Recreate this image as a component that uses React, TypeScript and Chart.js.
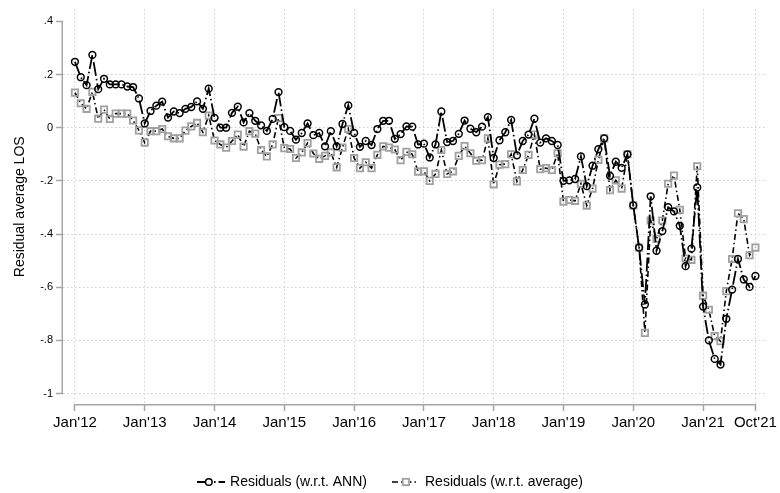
import React, { useEffect, useRef } from "react";
import { Chart, registerables } from "chart.js";

Chart.register(...registerables);

// ---------- data ----------
const tickMonths = [0, 12, 24, 36, 48, 60, 72, 84, 96, 108, 117];
const tickLabels = ["Jan'12", "Jan'13", "Jan'14", "Jan'15", "Jan'16", "Jan'17", "Jan'18", "Jan'19", "Jan'20", "Jan'21", "Oct'21"];
const yTicks = [0.4, 0.2, 0, -0.2, -0.4, -0.6, -0.8, -1];
const yTickLabels = [".4", ".2", "0", "-.2", "-.4", "-.6", "-.8", "-1"];

const seriesNames = ["Residuals (w.r.t. ANN)", "Residuals (w.r.t. average)"];

const residANN = [
  0.248, 0.19, 0.16, 0.274, 0.145, 0.184, 0.163, 0.163, 0.163, 0.155, 0.153, 0.11,
  0.016, 0.063, 0.083, 0.098, 0.038, 0.061, 0.055, 0.071, 0.078, 0.099, 0.071, 0.147,
  0.037, 0.0, 0.0, 0.056, 0.079, 0.02, 0.055, 0.026, 0.009, -0.012, 0.033, 0.134,
  0.002, -0.012, -0.045, -0.02, 0.016, -0.028, -0.02, -0.07, -0.013, -0.07, 0.014, 0.084,
  -0.02, -0.072, -0.05, -0.065, -0.005, 0.026, 0.026, -0.042, -0.024, 0.005, 0.004, -0.063,
  -0.06, -0.112, -0.063, 0.061, -0.054, -0.05, -0.023, 0.027, -0.004, -0.017, 0.004, 0.04,
  -0.114, -0.047, -0.017, 0.029, -0.104, -0.05, -0.026, 0.034, -0.056, -0.04, -0.05, -0.065,
  -0.2, -0.198, -0.193, -0.108, -0.22, -0.143, -0.081, -0.04, -0.181, -0.128, -0.151, -0.1,
  -0.292, -0.451, -0.665, -0.258, -0.463, -0.389, -0.299, -0.315, -0.369, -0.521, -0.455, -0.225,
  -0.673, -0.8, -0.87, -0.891, -0.719, -0.609, -0.494, -0.571, -0.599, -0.558,
];

const residAvg = [
  0.132, 0.092, 0.071, 0.135, 0.034, 0.068, 0.033, 0.053, 0.053, 0.053, 0.027, -0.01,
  -0.056, -0.013, -0.013, -0.005, -0.032, -0.04, -0.04, -0.011, 0.005, 0.018, -0.017, 0.046,
  -0.048, -0.063, -0.075, -0.05, -0.026, -0.071, -0.013, -0.022, -0.084, -0.108, -0.063, 0.036,
  -0.077, -0.08, -0.114, -0.093, -0.058, -0.097, -0.117, -0.106, -0.093, -0.149, -0.075, -0.005,
  -0.114, -0.152, -0.13, -0.152, -0.102, -0.07, -0.075, -0.082, -0.122, -0.091, -0.1, -0.165,
  -0.164, -0.2, -0.174, -0.084, -0.174, -0.164, -0.106, -0.069, -0.096, -0.124, -0.122, -0.04,
  -0.213, -0.139, -0.137, -0.1, -0.202, -0.159, -0.102, -0.026, -0.156, -0.152, -0.159, -0.096,
  -0.278, -0.272, -0.275, -0.211, -0.293, -0.229, -0.121, -0.04, -0.235, -0.198, -0.229, -0.1,
  -0.292, -0.451, -0.772, -0.349, -0.418, -0.349, -0.211, -0.18, -0.309, -0.492, -0.497, -0.145,
  -0.632, -0.685, -0.784, -0.803, -0.615, -0.494, -0.322, -0.344, -0.48, -0.451,
];

// ---------- styles ----------
const FONT = '"Liberation Sans", Arial, Helvetica, sans-serif';
const AXIS_COLOR = "#a6a6a6";
const GRID_COLOR = "#cfcfcf";
const SQUARE_COLOR = "#a0a0a0";
const DASH1 = [14, 3, 1.5, 3];
const DASH2 = [6, 3, 1.5, 3];

const stataPlugin = {
  id: "stataDecor",
  afterDraw(chart: any) {
    const ctx = chart.ctx as CanvasRenderingContext2D;
    const xs = chart.scales.x;
    const ys = chart.scales.y;
    const area = chart.chartArea;
    ctx.save();
    // axis lines
    ctx.strokeStyle = AXIS_COLOR;
    ctx.lineWidth = 1.5;
    ctx.setLineDash([]);
    const ax = area.left - 0.75;
    ctx.beginPath();
    ctx.moveTo(ax, ys.getPixelForValue(yTicks[0]));
    ctx.lineTo(ax, ys.getPixelForValue(yTicks[yTicks.length - 1]));
    ctx.stroke();
    const ay = area.bottom + 0.75;
    ctx.beginPath();
    ctx.moveTo(xs.getPixelForValue(tickMonths[0]), ay);
    ctx.lineTo(xs.getPixelForValue(tickMonths[tickMonths.length - 1]), ay);
    ctx.stroke();

    // legend
    ctx.font = `14px ${FONT}`;
    ctx.textBaseline = "middle";
    ctx.textAlign = "left";
    const w1 = ctx.measureText(seriesNames[0]).width;
    const w2 = ctx.measureText(seriesNames[1]).width;
    const sym1 = 28, gap1 = 5, between = 25, sym2 = 24, gap2 = 9;
    const total = sym1 + gap1 + w1 + between + sym2 + gap2 + w2;
    let x = chart.width / 2 - total / 2;
    const ly = 482;

    // item 1
    ctx.strokeStyle = "#000";
    ctx.lineWidth = 1.8;
    ctx.setLineDash(DASH1);
    ctx.beginPath();
    ctx.moveTo(x, ly);
    ctx.lineTo(x + sym1, ly);
    ctx.stroke();
    ctx.setLineDash([]);
    ctx.lineWidth = 1.5;
    ctx.fillStyle = "#fff";
    ctx.beginPath();
    ctx.arc(x + sym1 * 0.42, ly, 3.3, 0, Math.PI * 2);
    ctx.fill();
    ctx.stroke();
    x += sym1 + gap1;
    ctx.fillStyle = "#000";
    ctx.fillText(seriesNames[0], x, ly);
    x += w1 + between;

    // item 2
    ctx.strokeStyle = "#000";
    ctx.lineWidth = 1.6;
    ctx.setLineDash(DASH2);
    ctx.beginPath();
    ctx.moveTo(x, ly);
    ctx.lineTo(x + sym2, ly);
    ctx.stroke();
    ctx.setLineDash([]);
    ctx.strokeStyle = SQUARE_COLOR;
    ctx.lineWidth = 1.8;
    ctx.fillStyle = "#fff";
    const cx = x + sym2 * 0.58;
    ctx.fillRect(cx - 3.2, ly - 3.2, 6.4, 6.4);
    ctx.strokeRect(cx - 3.2, ly - 3.2, 6.4, 6.4);
    x += sym2 + gap2;
    ctx.fillStyle = "#000";
    ctx.fillText(seriesNames[1], x, ly);
    ctx.restore();
  },
};

export default function App() {
  const ref = useRef<HTMLCanvasElement | null>(null);

  useEffect(() => {
    document.body.style.margin = "0";
    const canvas = ref.current;
    if (!canvas) return;
    const chart = new Chart(canvas, {
      type: "line",
      data: {
        datasets: [
          {
            label: seriesNames[0],
            data: residANN.map((v, i) => ({ x: i, y: v })),
            borderColor: "#000",
            borderWidth: 1.8,
            borderDash: DASH1,
            pointStyle: "circle",
            pointRadius: 3.4,
            pointBorderWidth: 1.5,
            pointBorderColor: "#000",
            pointBackgroundColor: "rgba(0,0,0,0)",
            fill: false,
            tension: 0,
          },
          {
            label: seriesNames[1],
            data: residAvg.map((v, i) => ({ x: i, y: v })),
            borderColor: "#000",
            borderWidth: 1.6,
            borderDash: DASH2,
            pointStyle: "rect",
            pointRadius: 4.5,
            pointBorderWidth: 1.8,
            pointBorderColor: SQUARE_COLOR,
            pointBackgroundColor: "rgba(0,0,0,0)",
            fill: false,
            tension: 0,
          },
        ],
      },
      options: {
        animation: false,
        responsive: false,
        maintainAspectRatio: false,
        devicePixelRatio: 1,
        layout: { padding: { left: 0, right: 10, top: 3, bottom: 0 } },
        plugins: {
          legend: { display: false },
          tooltip: { enabled: false },
        },
        scales: {
          x: {
            type: "linear",
            min: -2.054,
            max: 118.97,
            afterBuildTicks: (s: any) => {
              s.ticks = tickMonths.map((v) => ({ value: v }));
            },
            afterFit: (s: any) => {
              s.height = 89;
            },
            ticks: {
              autoSkip: false,
              maxRotation: 0,
              minRotation: 0,
              padding: 3,
              color: "#000",
              font: { family: FONT, size: 15 },
              callback: (value: any) => {
                const k = tickMonths.indexOf(Number(value));
                return k >= 0 ? tickLabels[k] : "";
              },
            },
            grid: {
              color: GRID_COLOR,
              lineWidth: 1,
              drawTicks: true,
              tickLength: 7,
              tickColor: AXIS_COLOR,
              tickWidth: 1.5,
              tickBorderDash: [],
            },
            border: { display: false, dash: [1.5, 2.5] },
          },
          y: {
            type: "linear",
            min: -1.0396,
            max: 0.4444,
            afterBuildTicks: (s: any) => {
              s.ticks = yTicks.map((v) => ({ value: v }));
            },
            afterFit: (s: any) => {
              s.width = 63;
            },
            ticks: {
              autoSkip: false,
              padding: 3,
              color: "#000",
              font: { family: FONT, size: 11 },
              callback: (_v: any, index: number) => yTickLabels[index],
            },
            grid: {
              color: (c: any) => (c.tick && c.tick.value === 0.4 ? "rgba(0,0,0,0)" : GRID_COLOR),
              lineWidth: 1,
              drawTicks: true,
              tickLength: 7,
              tickColor: AXIS_COLOR,
              tickWidth: 1.5,
              tickBorderDash: [],
            },
            border: { display: false, dash: [1.5, 2.5] },
            title: {
              display: true,
              text: "Residual average LOS",
              color: "#000",
              font: { family: FONT, size: 14 },
              padding: { top: 12, bottom: 0 },
            },
          },
        },
      },
      plugins: [stataPlugin],
    } as any);
    return () => chart.destroy();
  }, []);

  return (
    <div style={{ position: "fixed", left: 0, top: 0, width: 780, height: 493, background: "#fff" }}>
      <canvas ref={ref} width={780} height={493} style={{ width: 780, height: 493, display: "block" }} />
    </div>
  );
}
